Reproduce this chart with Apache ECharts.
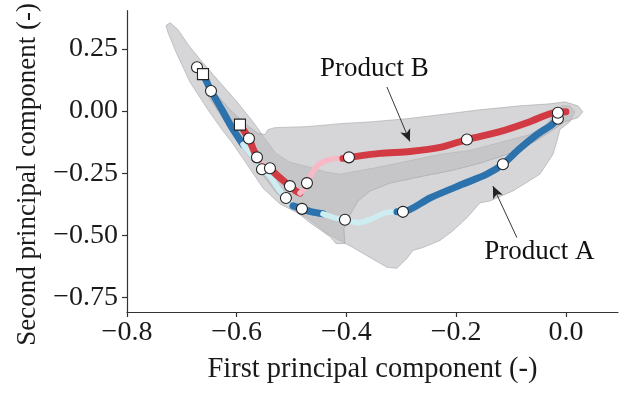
<!DOCTYPE html>
<html><head><meta charset="utf-8">
<script src="https://cdn.jsdelivr.net/npm/echarts@6/dist/echarts.min.js"></script>
<style>html,body{margin:0;padding:0;background:#fff}#c{width:627px;height:394px}</style>
</head><body><div id="c"></div>
<script>
// ---- data ----
const xTicks = [-0.8, -0.6, -0.4, -0.2, 0.0];
const yTicks = [-0.75, -0.5, -0.25, 0.0, 0.25];

// grey envelopes
const envelopeA = [
  [-0.7216,0.3558],[-0.7071,0.3279],[-0.6888,0.2681],[-0.6670,0.2084],[-0.6360,0.1287],
  [-0.5995,0.0371],[-0.5704,-0.0426],[-0.5485,-0.1104],[-0.5285,-0.1701],[-0.5030,-0.2060],
  [-0.4665,-0.2259],[-0.4355,-0.2458],[-0.4118,-0.2538],[-0.3517,-0.2299],[-0.2898,-0.2020],
  [-0.2296,-0.1741],[-0.1749,-0.1582],[-0.1203,-0.1263],[-0.0656,-0.0944],[-0.0383,-0.0586],
  [-0.0200,-0.0108],[-0.0073,0.0211],[0.0073,0.0211],[0.0164,-0.0028],[0.0073,-0.0426],
  [-0.0109,-0.0745],[-0.0164,-0.1223],
  [-0.0237,-0.1741],[-0.0474,-0.2538],[-0.0966,-0.3215],[-0.1385,-0.3614],[-0.1567,-0.3693],
  [-0.1804,-0.4291],[-0.2059,-0.4809],[-0.2296,-0.5207],[-0.2606,-0.5486],[-0.2788,-0.5606],
  [-0.2898,-0.5924],[-0.3080,-0.6323],[-0.3262,-0.6283],[-0.3572,-0.5884],[-0.3882,-0.5486],
  [-0.4355,-0.4928],[-0.4720,-0.4291],[-0.5212,-0.3733],[-0.5522,-0.3096],[-0.5850,-0.2020],
  [-0.6087,-0.1263],[-0.6269,-0.0745],[-0.6524,0.0052],[-0.6852,0.1167],[-0.7089,0.2283],
  [-0.7253,0.3159],[-0.7289,0.3438]
];
const envelopeB = [
  [-0.6487,0.0849],[-0.6342,0.0610],[-0.6123,0.0052],[-0.5850,-0.0506],[-0.5613,-0.0904],
  [-0.5485,-0.0944],[-0.5431,-0.0745],[-0.5303,-0.0665],[-0.4720,-0.0625],[-0.4118,-0.0506],
  [-0.3517,-0.0426],[-0.2898,-0.0307],[-0.2296,-0.0147],[-0.1567,0.0052],[-0.0838,0.0211],
  [-0.0292,0.0291],[-0.0018,0.0371],[0.0219,0.0211],[0.0310,-0.0028],[0.0219,-0.0267],
  [-0.0018,-0.0426],[-0.0200,-0.0705],[-0.0565,-0.1223],[-0.1020,-0.1701],[-0.1567,-0.2100],
  [-0.2059,-0.2378],[-0.2606,-0.2618],[-0.3207,-0.2896],[-0.3572,-0.3215],[-0.3790,-0.3614],
  [-0.3936,-0.4171],[-0.4046,-0.4729],[-0.4028,-0.5327],[-0.4192,-0.5327],
  [-0.4301,-0.5048],[-0.4665,-0.4490],[-0.4993,-0.3892],[-0.5303,-0.3215],
  [-0.5576,-0.2418],[-0.5850,-0.1622],[-0.6123,-0.0745],[-0.6378,0.0131],[-0.6524,0.0610]
];

// trajectories
const pathA = [
  [-0.6724,0.1765],[-0.6615,0.1486],[-0.6469,0.0809],[-0.6269,0.0052],[-0.6087,-0.0665],
  [-0.5886,-0.1343],[-0.5759,-0.1701],[-0.5649,-0.2020],[-0.5540,-0.2339],[-0.5394,-0.2618],
  [-0.5248,-0.3096],[-0.5103,-0.3494],[-0.4975,-0.3813],[-0.4811,-0.3932],[-0.4629,-0.4052],
  [-0.4428,-0.4131],[-0.4210,-0.4291],[-0.4027,-0.4371],[-0.3790,-0.4490],[-0.3535,-0.4331],
  [-0.3298,-0.4092],[-0.3080,-0.4052],[-0.2970,-0.4052],[-0.2478,-0.3494],[-0.1877,-0.2936],
  [-0.1440,-0.2538],[-0.1148,-0.2139],[-0.0838,-0.1502],[-0.0528,-0.0944],[-0.0255,-0.0546],
  [-0.0146,-0.0307]
];
const pathB = [
  [-0.5941,-0.0546],[-0.5777,-0.1104],[-0.5704,-0.1502],[-0.5631,-0.1861],[-0.5522,-0.2139],
  [-0.5394,-0.2299],[-0.5267,-0.2578],[-0.5139,-0.2817],[-0.5030,-0.3016],[-0.4920,-0.3215],
  [-0.4847,-0.3295],[-0.4774,-0.3135],[-0.4720,-0.2896],[-0.4629,-0.2498],[-0.4501,-0.2139],
  [-0.4301,-0.1940],[-0.4064,-0.1900],[-0.3954,-0.1861],[-0.3390,-0.1701],[-0.2843,-0.1622],
  [-0.2296,-0.1462],[-0.1804,-0.1143],[-0.1203,-0.0825],[-0.0656,-0.0426],[-0.0292,-0.0108],
  [0.0000,-0.0028]
];
// phases: [start index, end index, kind]
const phasesA = [[0,5,'main'],[5,12,'faint'],[12,15,'main'],[15,21,'faint'],[21,30,'main']];
const phasesB = [[0,3,'main'],[3,5,'faint'],[5,10,'main'],[10,16,'faint'],[16,25,'main']];

// sample markers
const startA = [[-0.6615,0.1486]];
const samplesA = [[-0.6724,0.1765],[-0.6469,0.0809],[-0.5540,-0.2339],[-0.5103,-0.3494],
  [-0.4811,-0.3932],[-0.4027,-0.4371],[-0.2970,-0.4052],[-0.1148,-0.2139],[-0.0146,-0.0307]];
const startB = [[-0.5941,-0.0546]];
const samplesB = [[-0.5777,-0.1104],[-0.5631,-0.1861],[-0.5394,-0.2299],[-0.5030,-0.3016],
  [-0.4720,-0.2896],[-0.3954,-0.1861],[-0.1804,-0.1143],[-0.0146,-0.0068]];

// annotations
const labels = [
  {name:'Product B', at:[-0.3481,0.1685], from:[-0.3262,0.0968], to:[-0.2843,-0.1223]},
  {name:'Product A', at:[-0.0474,-0.5685], from:[-0.0893,-0.5088], to:[-0.1330,-0.3016]}
];

// ---- chart ----
const FONT = 'Liberation Serif';
const colors = {A:{main:'#2c73ad', faint:'#cdedf2'}, B:{main:'#d23b44', faint:'#f6b9c5'}};

function envelope(pts){
  return {
    type:'custom', coordinateSystem:'cartesian2d', silent:true, z:1,
    data:[pts[0]], encode:{x:0,y:1},
    renderItem:(params, api) => ({
      type:'polygon',
      shape:{points: pts.map(p => api.coord(p))},
      style:{fill:'rgba(186,186,190,0.6)', stroke:'rgba(160,160,165,0.7)', lineWidth:0.8}
    })
  };
}
function segments(path, phases, pal, z){
  return phases.map(([s,e,k]) => ({
    type:'line', data:path.slice(s, e+1), showSymbol:false, smooth:0.25, silent:true, z:z,
    lineStyle:{color:pal[k], width:k==='main'?7:5.5, cap:'round', join:'round'}
  }));
}
function markers(data, symbol, size){
  return {type:'scatter', data, symbol, symbolSize:size, z:10, silent:true,
    itemStyle:{color:'#fff', borderColor:'#222', borderWidth:1.1, opacity:1}};
}

const chart = echarts.init(document.getElementById('c'), null, {renderer:'canvas'});
chart.setOption({
  animation:false,
  backgroundColor:'#fff',
  grid:{left:127, right:9, top:8, bottom:82},
  xAxis:{
    type:'value', min:-0.8, max:0.095,
    name:'First principal component (-)', nameLocation:'middle', nameGap:43,
    nameTextStyle:{fontFamily:FONT, fontSize:28.5, color:'#1a1a1a'},
    axisLine:{show:true, onZero:false, lineStyle:{color:'#333', width:1.2}},
    axisTick:{show:true, length:5, customValues:xTicks, lineStyle:{color:'#333', width:1.2}},
    axisLabel:{customValues:xTicks, fontFamily:FONT, fontSize:28, color:'#1a1a1a', margin:7,
      formatter:v => (v < -1e-9 ? '\u2212' : '') + Math.abs(v).toFixed(1)},
    splitLine:{show:false}
  },
  yAxis:{
    type:'value', min:-0.808, max:0.404,
    name:'Second principal component (-)', nameLocation:'middle', nameGap:86,
    nameTextStyle:{fontFamily:FONT, fontSize:27, color:'#1a1a1a', padding:[0,26,0,0]},
    axisLine:{show:true, onZero:false, lineStyle:{color:'#333', width:1.2}},
    axisTick:{show:true, length:5, customValues:yTicks, lineStyle:{color:'#333', width:1.2}},
    axisLabel:{customValues:yTicks, fontFamily:FONT, fontSize:28, color:'#1a1a1a', margin:9,
      formatter:v => (v < -1e-9 ? '\u2212' : '') + Math.abs(v).toFixed(2)},
    splitLine:{show:false}
  },
  series:[
    envelope(envelopeA),
    envelope(envelopeB),
    ...segments(pathA, phasesA, colors.A, 4),
    ...segments(pathB, phasesB, colors.B, 5),
    markers(samplesA, 'circle', 11),
    markers(startA, 'rect', 11),
    markers(samplesB, 'circle', 11),
    markers(startB, 'rect', 11),
    {
      type:'scatter', z:12, silent:true, symbolSize:1, itemStyle:{color:'rgba(0,0,0,0)'},
      data:labels.map(l => ({name:l.name, value:l.at})),
      label:{show:true, position:[0,0], align:'center', verticalAlign:'middle', formatter:'{b}',
        fontFamily:FONT, fontSize:27, color:'#111', textBorderWidth:0, opacity:1},
      labelLayout:{hideOverlap:false},
      markLine:{
        silent:true, symbol:['none','arrow'], symbolSize:[8,12], animation:false,
        lineStyle:{color:'#222', width:0.9, type:'solid'}, label:{show:false},
        data:labels.map(l => [{coord:l.from}, {coord:l.to}])
      }
    }
  ]
});
</script></body></html>
